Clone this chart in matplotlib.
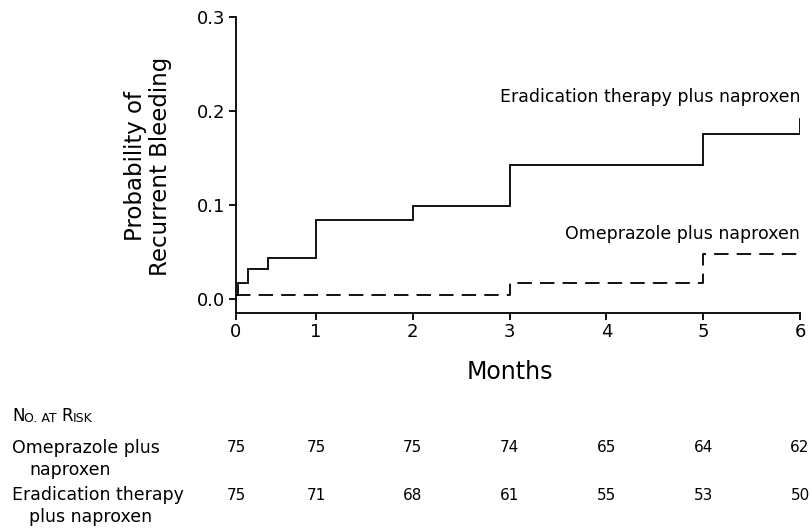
import matplotlib
matplotlib.use("Agg")
import matplotlib.pyplot as plt
import matplotlib.transforms as mtransforms
import numpy as np

plt.rcParams['font.family'] = ['DejaVu Sans']

### Data ###
months = [0, 1, 2, 3, 4, 5, 6]

erad_t = [0, 0.025, 0.15, 0.4, 1, 2, 3, 5, 6]
erad_p = [0.004, 0.017, 0.032, 0.044, 0.084, 0.099, 0.143, 0.175, 0.191]

omep_t = [0, 3, 5, 6]
omep_p = [0.004, 0.017, 0.048, 0.048]

risk_omep = [75, 75, 75, 74, 65, 64, 62]
risk_erad = [75, 71, 68, 61, 55, 53, 50]

yticks = [0.0, 0.1, 0.2, 0.3]

### Plotting ###
W, H = 812, 529
fig = plt.figure(figsize=(W / 100, H / 100), dpi=100)
ax = fig.add_axes([236 / W, 1 - 313 / H, (800 - 236) / W, (313 - 17) / H])

# the first month is drawn a bit narrower than the others in the original
k = 0.826
def fwd(x):
    x = np.asarray(x, dtype=float)
    return np.where(x <= 1, k * x, x - (1 - k))
def inv(u):
    u = np.asarray(u, dtype=float)
    return np.where(u <= k, u / k, u + (1 - k))
ax.set_xscale('function', functions=(fwd, inv))

ax.plot(erad_t, erad_p, drawstyle='steps-post', color='black', lw=1.3,
        solid_joinstyle='miter')
ax.plot(omep_t, omep_p, drawstyle='steps-post', color='black', lw=1.3,
        dashes=(8, 4.5))

ax.set_xlim(0, 6)
ax.set_ylim(-0.015, 0.3)
ax.set_xticks(months)
ax.set_xticklabels([str(m) for m in months])
ax.set_yticks(yticks)
ax.set_yticklabels(['%.1f' % v for v in yticks])

for s in ['top', 'right']:
    ax.spines[s].set_visible(False)
for s in ['left', 'bottom']:
    ax.spines[s].set_linewidth(1.3)
ax.tick_params(direction='out', length=5, width=1.3, labelsize=13)
ax.tick_params(axis='x', pad=2)
ax.tick_params(axis='y', pad=3)

ax.text(6, 0.215, 'Eradication therapy plus naproxen', ha='right', va='center', fontsize=12.5)
ax.text(6, 0.069, 'Omeprazole plus naproxen', ha='right', va='center', fontsize=12.5)

fig.text(148 / W, 1 - 166 / H, 'Probability of\nRecurrent Bleeding', rotation=90,
         ha='center', va='center', fontsize=16.5, linespacing=1.1)
fig.text(510 / W, 1 - 372 / H, 'Months', ha='center', va='center', fontsize=17)

# number at risk table
t = fig.text(12 / W, 1 - 421 / H, 'N', fontsize=12, va='baseline')
for piece, size in [('O. AT ', 9), ('R', 12), ('ISK', 9)]:
    t = ax.annotate(piece, xy=(1, 0), xycoords=t, fontsize=size,
                    va='bottom', annotation_clip=False)

fig.text(12 / W, 1 - 448 / H, 'Omeprazole plus', fontsize=12.5, va='center')
fig.text(29 / W, 1 - 470 / H, 'naproxen', fontsize=12.5, va='center')
fig.text(12 / W, 1 - 495 / H, 'Eradication therapy', fontsize=12.5, va='center')
fig.text(29 / W, 1 - 517 / H, 'plus naproxen', fontsize=12.5, va='center')

trans = mtransforms.blended_transform_factory(ax.transData, fig.transFigure)
for m, a, b in zip(months, risk_omep, risk_erad):
    ax.text(m, 1 - 448 / H, str(a), ha='center', va='center', fontsize=11,
            transform=trans, clip_on=False)
    ax.text(m, 1 - 495 / H, str(b), ha='center', va='center', fontsize=11,
            transform=trans, clip_on=False)

fig.savefig('out.png', dpi=100)
